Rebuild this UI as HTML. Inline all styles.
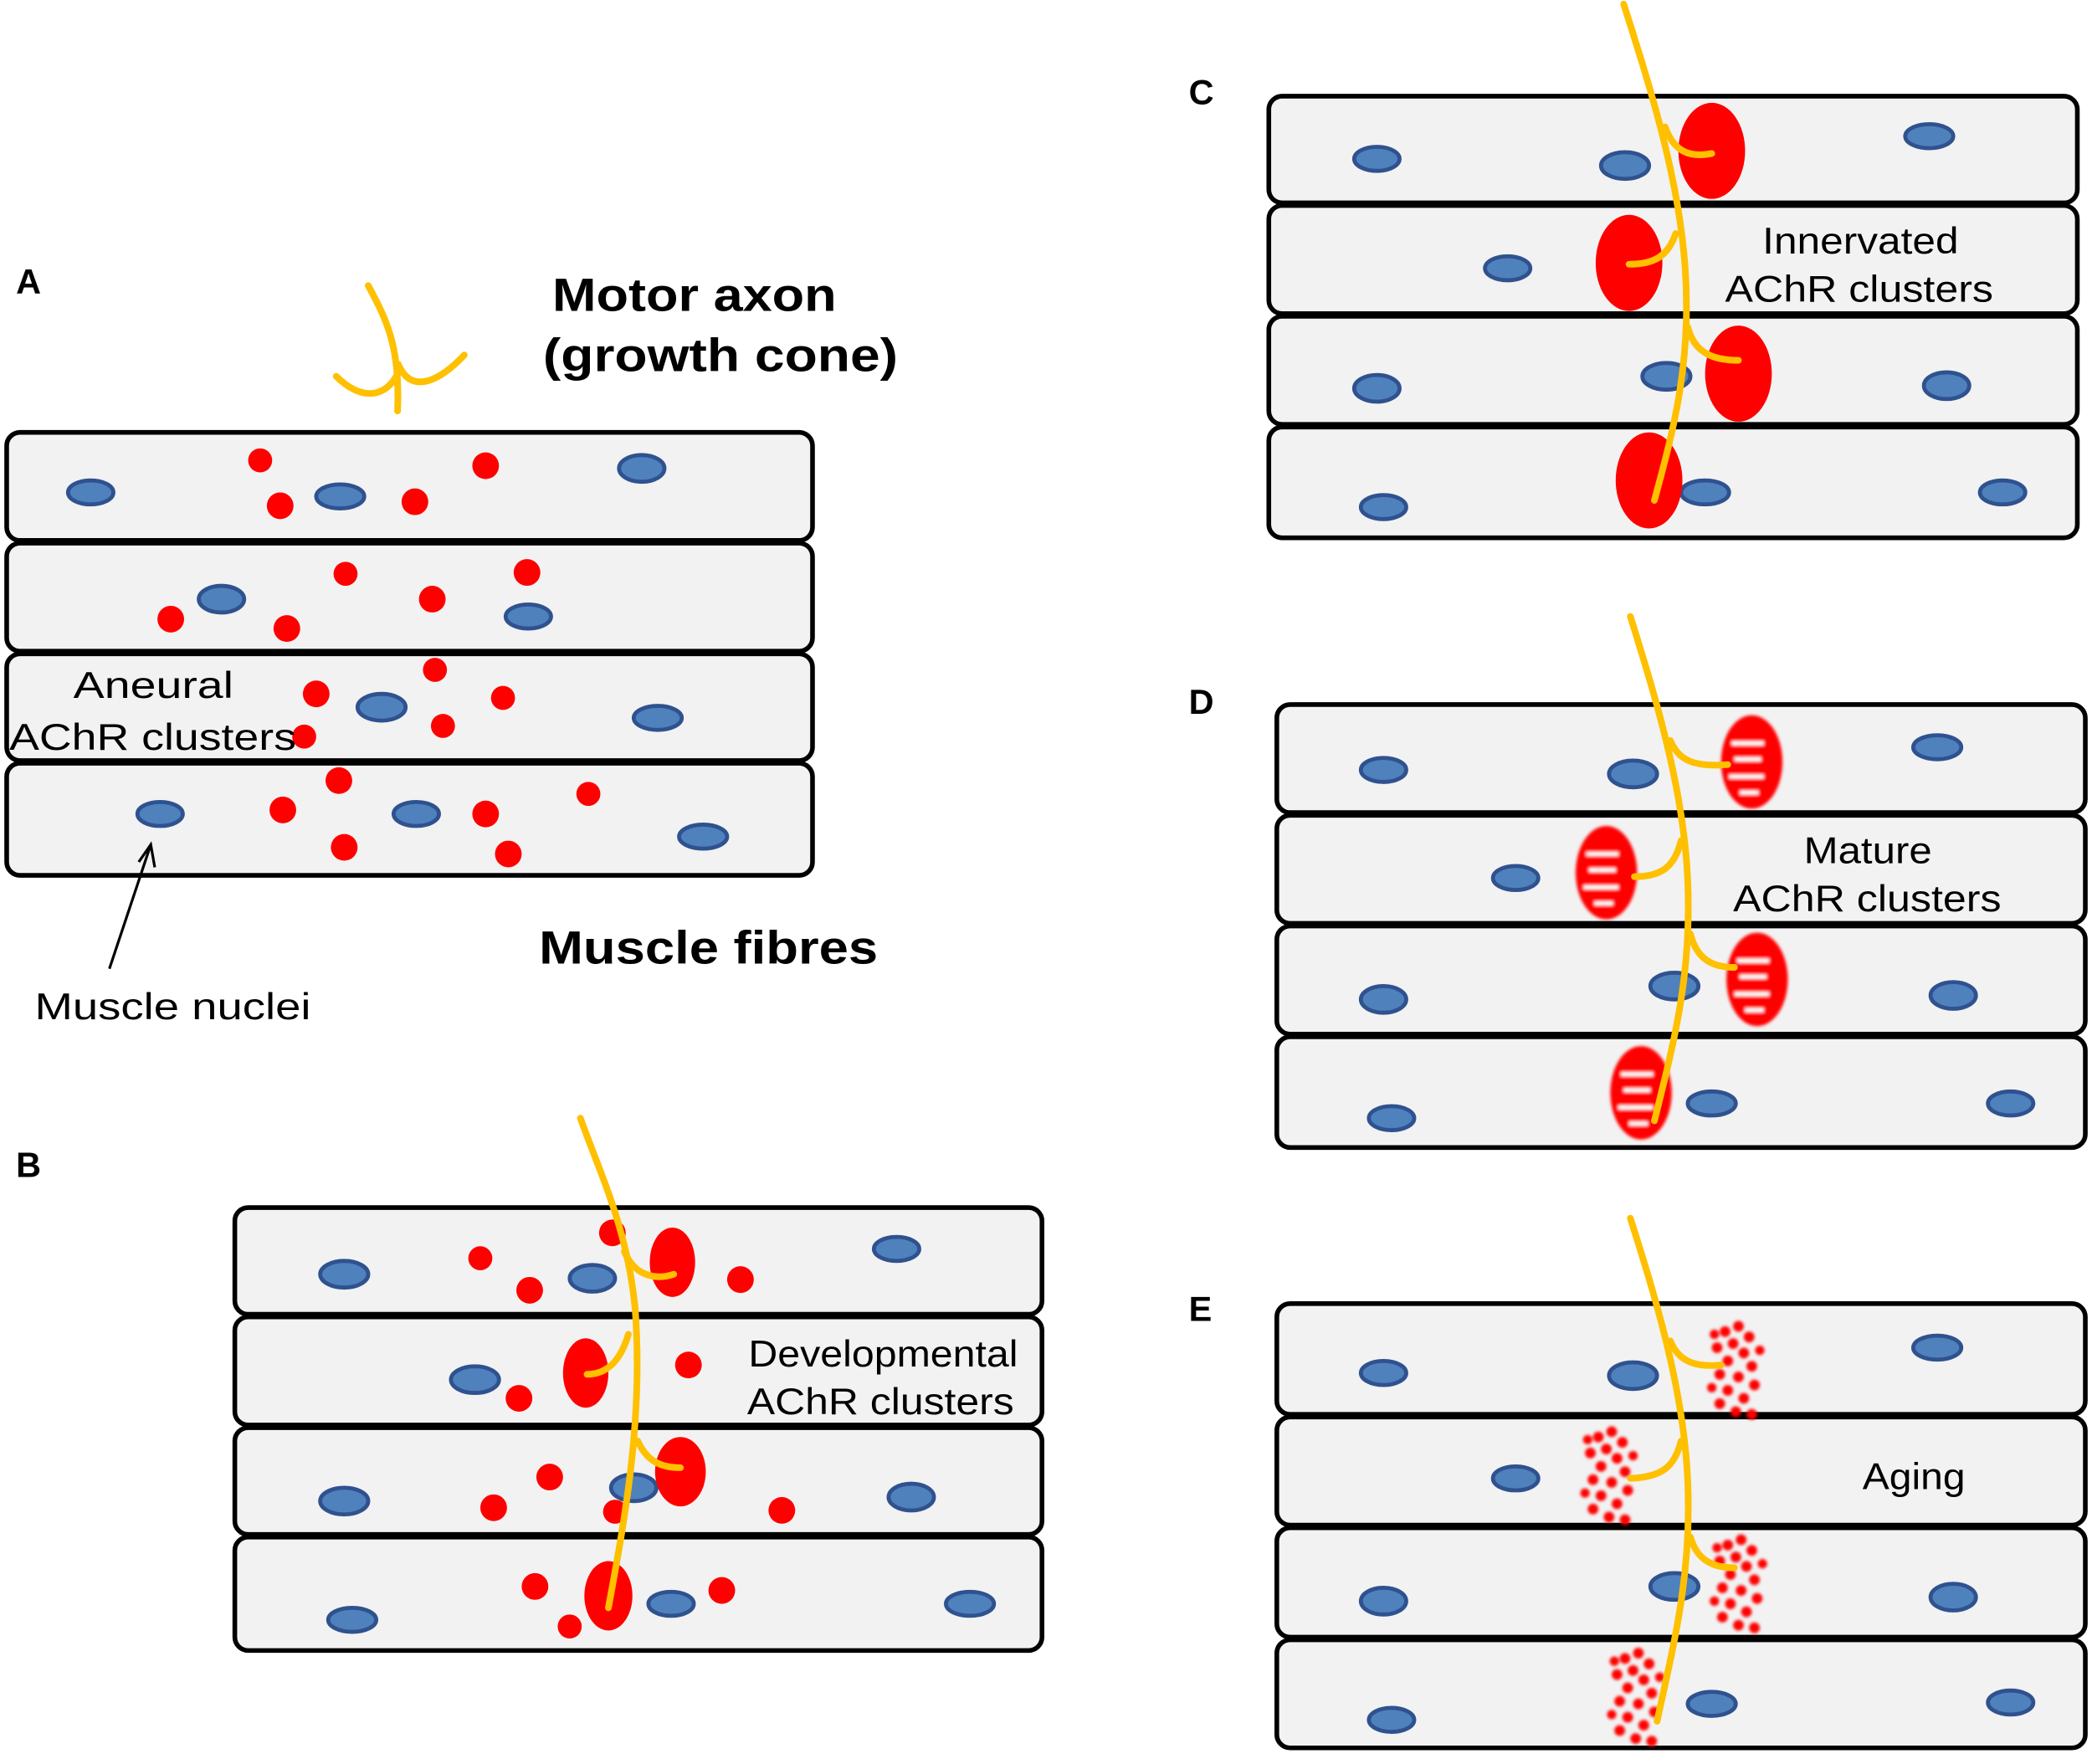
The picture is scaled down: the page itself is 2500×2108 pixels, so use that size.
<!DOCTYPE html>
<html><head><style>html,body{margin:0;padding:0;background:#fff}svg{display:block}</style></head>
<body>
<svg width="2500" height="2108" viewBox="0 0 1568 1322" xmlns="http://www.w3.org/2000/svg" font-family="Liberation Sans, sans-serif">
<defs>
<filter id="bl"><feGaussianBlur stdDeviation="1.2"/></filter>
<g id="ag">
<circle cx="0" cy="0" r="4"/><circle cx="10" cy="-4" r="4"/><circle cx="18" cy="4" r="4"/><circle cx="6" cy="9" r="4"/><circle cx="-6" cy="12" r="4"/><circle cx="14" cy="16" r="4"/><circle cx="2" cy="22" r="4"/><circle cx="20" cy="26" r="4"/><circle cx="-4" cy="32" r="4"/><circle cx="10" cy="34" r="4"/><circle cx="22" cy="40" r="4"/><circle cx="2" cy="44" r="4"/><circle cx="14" cy="50" r="4"/><circle cx="-4" cy="54" r="4"/><circle cx="8" cy="60" r="4"/><circle cx="20" cy="62" r="4"/><circle cx="-8" cy="2" r="3.5"/><circle cx="26" cy="14" r="3.5"/><circle cx="-10" cy="42" r="3.5"/>
</g>
</defs>
<g fill="#f2f2f2" stroke="#000" stroke-width="3.5">
<rect x="5" y="324" width="604" height="81" rx="10"/>
<rect x="5" y="407" width="604" height="81" rx="10"/>
<rect x="5" y="490" width="604" height="80" rx="10"/>
<rect x="5" y="572" width="604" height="84" rx="10"/>
<rect x="176" y="905" width="605" height="80" rx="10"/>
<rect x="176" y="987" width="605" height="81" rx="10"/>
<rect x="176" y="1070" width="605" height="80" rx="10"/>
<rect x="176" y="1152" width="605" height="85" rx="10"/>
<rect x="951" y="72" width="606" height="80" rx="10"/>
<rect x="951" y="154" width="606" height="81" rx="10"/>
<rect x="951" y="237" width="606" height="81" rx="10"/>
<rect x="951" y="320" width="606" height="83" rx="10"/>
<rect x="957" y="528" width="606" height="81" rx="10"/>
<rect x="957" y="611" width="606" height="81" rx="10"/>
<rect x="957" y="694" width="606" height="81" rx="10"/>
<rect x="957" y="777" width="606" height="83" rx="10"/>
<rect x="957" y="977" width="606" height="83" rx="10"/>
<rect x="957" y="1062" width="606" height="81" rx="10"/>
<rect x="957" y="1145" width="606" height="82" rx="10"/>
<rect x="957" y="1229" width="606" height="81" rx="10"/>
</g>
<g fill="#4f81bd" stroke="#2f528f" stroke-width="3">
<ellipse cx="68" cy="369" rx="17" ry="9"/><ellipse cx="255" cy="372" rx="18" ry="9"/><ellipse cx="481" cy="351" rx="17" ry="10"/>
<ellipse cx="166" cy="449" rx="17" ry="10"/><ellipse cx="396" cy="462" rx="17" ry="9"/>
<ellipse cx="286" cy="530" rx="18" ry="10"/><ellipse cx="493" cy="538" rx="18" ry="9"/>
<ellipse cx="120" cy="610" rx="17" ry="9"/><ellipse cx="312" cy="610" rx="17" ry="9"/><ellipse cx="527" cy="627" rx="18" ry="9"/>
<ellipse cx="258" cy="955" rx="18" ry="10"/><ellipse cx="444" cy="958" rx="17" ry="10"/><ellipse cx="672" cy="936" rx="17" ry="9"/>
<ellipse cx="356" cy="1034" rx="18" ry="10"/>
<ellipse cx="258" cy="1125" rx="18" ry="10"/><ellipse cx="475" cy="1115" rx="17" ry="10"/><ellipse cx="683" cy="1122" rx="17" ry="10"/>
<ellipse cx="264" cy="1214" rx="18" ry="9"/><ellipse cx="503" cy="1202" rx="17" ry="9"/><ellipse cx="727" cy="1202" rx="18" ry="9"/>
<ellipse cx="1032" cy="119" rx="17" ry="9"/><ellipse cx="1218" cy="124" rx="18" ry="10"/><ellipse cx="1446" cy="102" rx="18" ry="9"/>
<ellipse cx="1130" cy="201" rx="17" ry="9"/>
<ellipse cx="1032" cy="291" rx="17" ry="10"/><ellipse cx="1249" cy="282" rx="18" ry="10"/><ellipse cx="1459" cy="289" rx="17" ry="10"/>
<ellipse cx="1037" cy="380" rx="17" ry="9"/><ellipse cx="1278" cy="369" rx="18" ry="9"/><ellipse cx="1501" cy="369" rx="17" ry="9"/>
<ellipse cx="1037" cy="577" rx="17" ry="9"/><ellipse cx="1224" cy="580" rx="18" ry="10"/><ellipse cx="1452" cy="560" rx="18" ry="9"/>
<ellipse cx="1136" cy="658" rx="17" ry="9"/>
<ellipse cx="1037" cy="749" rx="17" ry="10"/><ellipse cx="1255" cy="739" rx="18" ry="10"/><ellipse cx="1464" cy="746" rx="17" ry="10"/>
<ellipse cx="1043" cy="838" rx="17" ry="9"/><ellipse cx="1283" cy="827" rx="18" ry="9"/><ellipse cx="1507" cy="827" rx="17" ry="9"/>
<ellipse cx="1037" cy="1029" rx="17" ry="9"/><ellipse cx="1224" cy="1031" rx="18" ry="10"/><ellipse cx="1452" cy="1010" rx="18" ry="9"/>
<ellipse cx="1136" cy="1108" rx="17" ry="9"/>
<ellipse cx="1037" cy="1200" rx="17" ry="10"/><ellipse cx="1255" cy="1189" rx="18" ry="10"/><ellipse cx="1464" cy="1197" rx="17" ry="10"/>
<ellipse cx="1043" cy="1289" rx="17" ry="9"/><ellipse cx="1283" cy="1277" rx="18" ry="9"/><ellipse cx="1507" cy="1276" rx="17" ry="9"/>
</g>
<g fill="#ff0000">
<circle cx="195" cy="345" r="9"/><circle cx="210" cy="379" r="10"/><circle cx="311" cy="376" r="10"/><circle cx="364" cy="349" r="10"/>
<circle cx="259" cy="430" r="9"/><circle cx="324" cy="449" r="10"/><circle cx="395" cy="429" r="10"/><circle cx="128" cy="464" r="10"/><circle cx="215" cy="471" r="10"/>
<circle cx="326" cy="502" r="9"/><circle cx="237" cy="520" r="10"/><circle cx="377" cy="523" r="9"/><circle cx="332" cy="544" r="9"/><circle cx="228" cy="552" r="9"/>
<circle cx="254" cy="585" r="10"/><circle cx="212" cy="607" r="10"/><circle cx="364" cy="610" r="10"/><circle cx="441" cy="595" r="9"/><circle cx="258" cy="635" r="10"/><circle cx="381" cy="640" r="10"/>
<circle cx="360" cy="943" r="9"/><circle cx="397" cy="967" r="10"/><circle cx="459" cy="924" r="10"/><circle cx="555" cy="959" r="10"/>
<circle cx="516" cy="1023" r="10"/><circle cx="389" cy="1048" r="10"/>
<circle cx="412" cy="1107" r="10"/><circle cx="370" cy="1130" r="10"/><circle cx="461" cy="1133" r="9"/><circle cx="586" cy="1132" r="10"/>
<circle cx="401" cy="1189" r="10"/><circle cx="541" cy="1192" r="10"/><circle cx="427" cy="1219" r="9"/>
<ellipse cx="504" cy="946" rx="17" ry="26"/><ellipse cx="439" cy="1029" rx="17" ry="26"/><ellipse cx="510" cy="1103" rx="19" ry="26"/><ellipse cx="456" cy="1196" rx="18" ry="26"/>
<ellipse cx="1283" cy="113" rx="25" ry="36"/><ellipse cx="1221" cy="197" rx="25" ry="36"/><ellipse cx="1303" cy="280" rx="25" ry="36"/><ellipse cx="1236" cy="360" rx="25" ry="36"/>
</g>
<g filter="url(#bl)">
<g fill="#ff0000">
<ellipse cx="1313" cy="571" rx="23" ry="35"/><ellipse cx="1204" cy="654" rx="23" ry="35"/><ellipse cx="1317" cy="734" rx="23" ry="35"/><ellipse cx="1230" cy="819" rx="23" ry="35"/>
</g>
<g stroke="#fff" stroke-width="3" fill="none">
<path d="M1298 557h24M1300 569h20M1296 582h26M1304 594h14"/>
<path d="M1189 640h24M1191 652h20M1187 665h26M1195 677h14"/>
<path d="M1302 720h24M1304 732h20M1300 745h26M1308 757h14"/>
<path d="M1215 805h24M1217 817h20M1213 830h26M1221 842h14"/>
</g>
</g>
<g fill="#ff0000" filter="url(#bl)">
<use href="#ag" x="1293" y="998"/><use href="#ag" x="1198" y="1077"/><use href="#ag" x="1295" y="1158"/><use href="#ag" x="1218" y="1243"/>
</g>
<g fill="none" stroke="#ffc000" stroke-width="5" stroke-linecap="round">
<path d="M276 214 C290 240 300 260 298 308"/>
<path d="M252 282 C270 300 290 300 300 276 C310 295 330 285 348 266"/>
<path d="M435 838 C450 880 470 920 476 980 C482 1060 470 1130 456 1205"/>
<path d="M468 938 C475 955 490 960 505 955"/><path d="M471 1000 C465 1020 455 1030 440 1030"/><path d="M478 1080 C485 1095 495 1100 510 1100"/>
<path d="M1217 3 C1235 60 1258 130 1263 200 C1268 270 1255 320 1240 375"/>
<path d="M1248 95 C1255 115 1268 118 1283 115"/><path d="M1256 175 C1250 192 1240 198 1221 198"/><path d="M1265 245 C1270 265 1285 270 1303 270"/>
<path d="M1222 462 C1240 520 1262 590 1265 660 C1268 730 1255 780 1240 840"/>
<path d="M1252 555 C1258 570 1270 575 1295 573"/><path d="M1260 630 C1255 650 1245 657 1225 657"/><path d="M1267 700 C1272 720 1285 725 1300 725"/>
<path d="M1222 913 C1240 970 1262 1040 1265 1110 C1268 1180 1255 1230 1242 1290"/>
<path d="M1252 1005 C1258 1020 1270 1025 1290 1023"/><path d="M1260 1080 C1255 1100 1245 1107 1222 1108"/><path d="M1267 1152 C1272 1170 1285 1175 1300 1175"/>
</g>
<path d="M82 726 L113 633" stroke="#000" stroke-width="2" fill="none"/>
<path d="M104 646 L113 633 L116 650" stroke="#000" stroke-width="2" fill="none"/>
<g font-size="28" fill="#000" lengthAdjust="spacingAndGlyphs">
<text x="55" y="523" textLength="120" lengthAdjust="spacingAndGlyphs">Aneural</text>
<text x="7" y="562" textLength="215" lengthAdjust="spacingAndGlyphs">AChR clusters</text>
<text x="26" y="764" textLength="207" lengthAdjust="spacingAndGlyphs">Muscle nuclei</text>
<text x="561" y="1024" textLength="202" lengthAdjust="spacingAndGlyphs">Developmental</text>
<text x="560" y="1060" textLength="200" lengthAdjust="spacingAndGlyphs">AChR clusters</text>
<text x="1321" y="190" textLength="147" lengthAdjust="spacingAndGlyphs">Innervated</text>
<text x="1293" y="226" textLength="201" lengthAdjust="spacingAndGlyphs">AChR clusters</text>
<text x="1352" y="647" textLength="96" lengthAdjust="spacingAndGlyphs">Mature</text>
<text x="1299" y="683" textLength="201" lengthAdjust="spacingAndGlyphs">AChR clusters</text>
<text x="1396" y="1116" textLength="77" lengthAdjust="spacingAndGlyphs">Aging</text>
</g>
<g font-size="35" font-weight="bold">
<text x="414" y="233" textLength="213" lengthAdjust="spacingAndGlyphs">Motor axon</text>
<text x="407" y="278" textLength="266" lengthAdjust="spacingAndGlyphs">(growth cone)</text>
<text x="404" y="722" textLength="254" lengthAdjust="spacingAndGlyphs">Muscle fibres</text>
</g>
<g font-size="26" font-weight="bold">
<text x="12" y="220">A</text><text x="12" y="882">B</text><text x="891" y="78">C</text><text x="891" y="535">D</text><text x="891" y="990">E</text>
</g>
</svg>
</body></html>
